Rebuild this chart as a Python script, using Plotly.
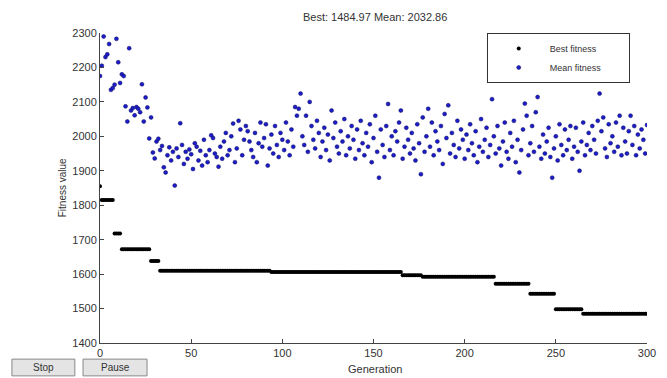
import plotly.graph_objects as go

generations = list(range(0, 301))

# Best fitness: step levels and run lengths
best_levels = [1855, 1815, 1718, 1672, 1638, 1610, 1606, 1597, 1592, 1572, 1543, 1498, 1484.97]
best_runs = [1, 7, 4, 16, 5, 61, 72, 11, 40, 19, 14, 15, 36]

mean_fitness = [
    2175, 2205, 2290, 2230, 2238, 2268, 2135, 2140, 2150, 2283,
    2215, 2155, 2180, 2175, 2087, 2043, 2256, 2075, 2082, 2061,
    2085, 2080, 2070, 2151, 2043, 2113, 2084, 1994, 2055, 1953,
    1936, 1985, 1993, 1960, 1972, 1910, 1895, 1945, 1968, 1930,
    1955, 1857, 1965, 1940, 2038, 1975, 1920, 1955, 1935, 1962,
    1948, 1905, 1980, 1970, 1930, 1958, 1915, 1990, 1945, 1925,
    1960, 2003, 1995, 1950, 1940, 1912, 1970, 1935, 1985, 2010,
    1945, 1960, 2000, 2037, 1925, 1965, 2045, 2020, 1945, 1990,
    2030, 2015, 1985, 1960, 1940, 2010, 1925, 1980, 2040, 1970,
    1995, 2035, 1915, 1965, 2005, 1950, 2030, 1975, 1940, 2010,
    1990, 1960, 2040, 1985, 1945, 2020, 1970, 2085, 2060, 2080,
    2124, 2000, 1975, 2060, 1955, 2100, 2030, 1990, 1965, 2045,
    2010, 1940, 1985, 2025, 1960, 2005, 1930, 2075, 1995, 2040,
    1970, 1950, 2015, 1985, 2050, 1945, 2000, 1965, 2030, 1990,
    1935, 2020, 1960, 2045, 1980, 1945, 2010, 1970, 2035, 1925,
    1995, 2060, 1955, 1880, 2020, 1975, 1940, 2030, 2094, 1960,
    2000, 1945, 2015, 1985, 2040, 2075, 1935, 1970, 2025, 1990,
    1950, 2010, 1965, 1930, 2035, 1980, 1890, 2055, 1955, 2000,
    2080, 1970, 2040, 1945, 2015, 1985, 1960, 2030, 1920, 2065,
    1995, 2090, 1950, 2010, 1975, 1940, 2045, 1965, 2020, 1990,
    1935, 2005, 1960, 2035, 1980, 1945, 2015, 1925, 1970, 2050,
    1955, 1990, 2025, 1940, 1975, 2108, 2000, 1950, 2030, 1965,
    1915, 1985, 2040, 1955, 1935, 2010, 1970, 2045, 1925, 1990,
    1895, 1960, 2020, 2095, 2060, 1945, 1980, 2030, 1955, 2070,
    2114, 1970, 1935, 2005, 1950, 1985, 2025, 1940, 1880, 1965,
    2000, 1930, 2035, 1975, 1945, 2020, 1960, 1990, 2030, 1935,
    1970, 2025, 1955, 1900, 1985, 2040, 1945, 1975, 2010, 1960,
    2030, 1990, 1950, 2045, 2124, 2015, 2055, 1965, 1940, 2035,
    1980, 2000, 1955, 2040, 1970, 2060, 1945, 2025, 1985, 1950,
    2015, 2060, 1975, 2030, 1945, 2005, 1965, 2020, 1990, 1950,
    2032.86,
]

best_fitness = []
for lvl, n in zip(best_levels, best_runs):
    best_fitness += [lvl] * n

x_ticks = [0, 50, 100, 150, 200, 250, 300]
y_ticks = [1400, 1500, 1600, 1700, 1800, 1900, 2000, 2100, 2200, 2300]

font = "Liberation Sans, Arial, sans-serif"
pad = "\u00a0" * 9

fig = go.Figure()
fig.add_trace(go.Scatter(
    x=generations, y=best_fitness, mode="markers", name="Best fitness" + pad,
    marker=dict(color="black", size=4),
))
fig.add_trace(go.Scatter(
    x=generations, y=mean_fitness, mode="markers", name="Mean fitness" + pad,
    marker=dict(color="#1c1cc8", size=4, line=dict(width=0.5, color="#101060")),
))

fig.update_layout(
    width=659, height=370,
    margin=dict(l=92, r=20, t=25, b=35),
    paper_bgcolor="white", plot_bgcolor="white",
    font=dict(family=font, size=10, color="#333"),
    title=dict(text="Best: 1484.97 Mean: 2032.86", xref="paper", x=0.503, xanchor="center",
               y=0.976, yanchor="middle", font=dict(size=11, color="#333")),
    showlegend=True,
    legend=dict(x=0.707, y=1.0, xanchor="left", yanchor="top",
                bordercolor="#333", borderwidth=1, bgcolor="white",
                font=dict(size=9, color="#333"), itemwidth=52,
                tracegroupgap=0),
    xaxis=dict(range=[0, 300], tickvals=x_ticks, ticks="inside", ticklen=4,
               showgrid=False, zeroline=False, showline=True, linecolor="#444",
               linewidth=1, tickcolor="#444", tickfont=dict(size=11, color="#333"),
               automargin=False),
    yaxis=dict(range=[1400, 2300], tickvals=y_ticks, ticks="inside", ticklen=4,
               showgrid=False, zeroline=False, showline=True, linecolor="#444",
               linewidth=1, tickcolor="#444", tickfont=dict(size=11, color="#333"),
               automargin=False),
)

# Axis titles
fig.add_annotation(xref="paper", yref="paper", x=0.503, y=-0.084,
                   xanchor="center", yanchor="middle", showarrow=False,
                   text="Generation", font=dict(size=11, color="#333"))
fig.add_annotation(xref="paper", yref="paper", x=-0.069, y=0.5,
                   xanchor="center", yanchor="middle", showarrow=False, textangle=-90,
                   text="Fitness value", font=dict(size=10, color="#333"))

# Stop / Pause buttons (UI decorations)
for x0, x1, label in [(-0.161, -0.046, "Stop"), (-0.031, 0.086, "Pause")]:
    fig.add_shape(type="rect", xref="paper", yref="paper", x0=x0, x1=x1,
                  y0=-0.106, y1=-0.052, fillcolor="#e4e4e4",
                  line=dict(color="#888", width=1))
    fig.add_annotation(xref="paper", yref="paper", x=(x0 + x1) / 2, y=-0.079,
                       xanchor="center", yanchor="middle",
                       text=label, showarrow=False, font=dict(size=10, color="#333"))

fig.write_html("out.html")
